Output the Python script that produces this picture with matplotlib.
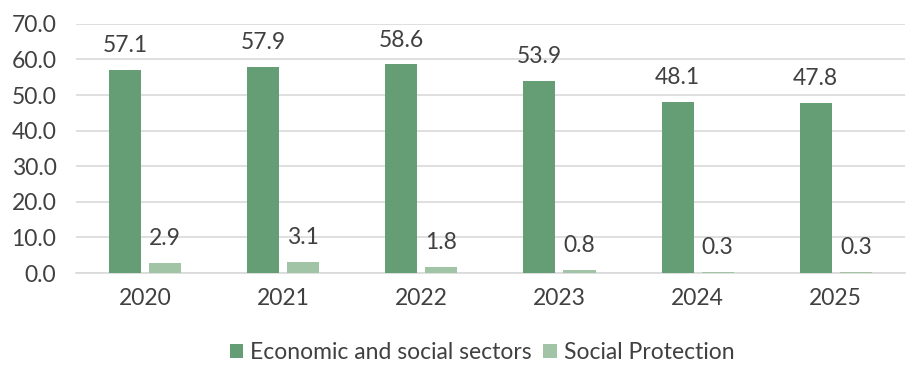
import numpy as np
import matplotlib.pyplot as plt

years = ["2020", "2021", "2022", "2023", "2024", "2025"]
econ_social = [57.1, 57.9, 58.6, 53.9, 48.1, 47.8]
social_protection = [2.9, 3.1, 1.8, 0.8, 0.3, 0.3]

dark_green = "#659e74"
light_green = "#a1c4a6"
text_col = "#404040"
fs = 16.5

plt.rcParams["font.family"] = ["Lato", "DejaVu Sans"]

fig = plt.figure(figsize=(9.14, 3.67), dpi=100)
ax = fig.add_axes([0.083, 0.256, 0.907, 0.679])

x = np.arange(len(years))
w = 0.232
off = 0.145
b1 = ax.bar(x - off, econ_social, w, color=dark_green, label="Economic and social sectors", zorder=3)
b2 = ax.bar(x + off, social_protection, w, color=light_green, label="Social Protection", zorder=3)

for bars, vals in ((b1, econ_social), (b2, social_protection)):
    for rect, v in zip(bars, vals):
        ax.annotate(f"{v:.1f}", (rect.get_x() + rect.get_width() / 2, v),
                    xytext=(0, 10), textcoords="offset points",
                    ha="center", va="bottom", fontsize=fs, color=text_col)

ax.set_ylim(0, 70)
ax.set_xlim(-0.5, len(years) - 0.5)
ax.set_yticks(np.arange(0, 71, 10))
ax.set_yticklabels([f"{t:.1f}" for t in np.arange(0, 71, 10)])
ax.set_xticks(x)
ax.set_xticklabels(years)
ax.tick_params(axis="both", length=0, labelsize=fs, colors=text_col)
ax.tick_params(axis="x", pad=11)
ax.tick_params(axis="y", pad=14)

ax.grid(axis="y", color="#d9d9d9", linewidth=1.2, zorder=0)
for s in ["top", "right", "left"]:
    ax.spines[s].set_visible(False)
ax.spines["bottom"].set_color("#d9d9d9")
ax.spines["bottom"].set_linewidth(1.2)

leg = ax.legend(loc="upper center", bbox_to_anchor=(0.49, -0.195), ncol=2, frameon=False,
                fontsize=fs, handlelength=0.6, handleheight=0.6, handletextpad=0.3,
                columnspacing=0.5, labelcolor=text_col)

fig.savefig("out.png", dpi=100)
